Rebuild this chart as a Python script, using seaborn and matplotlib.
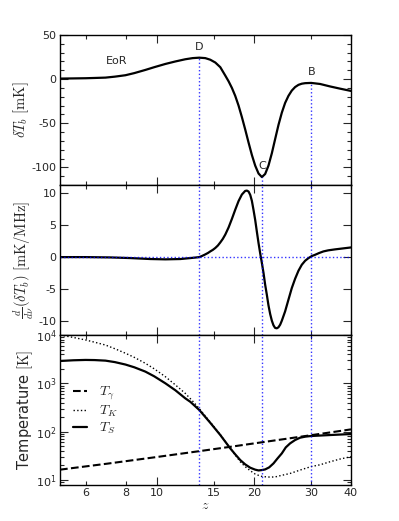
import numpy as np
import pandas as pd
import matplotlib
matplotlib.use("Agg")
import matplotlib.pyplot as plt
import seaborn as sns
from matplotlib.ticker import FixedLocator, FuncFormatter, NullFormatter, MultipleLocator

# ---------------- data ----------------
z_tb = [5.0, 5.5, 6.0, 6.4, 6.92, 7.4, 7.98, 8.5, 9.20, 9.8, 10.62, 11.4, 12.24, 12.9,
        13.53, 14.12, 14.63, 15.17, 15.72,
        16.29, 16.68, 17.08, 17.49, 17.91, 18.34, 18.78, 19.24, 19.70, 20.17, 20.66,
        21.16, 21.66, 22.18, 22.72, 23.26, 23.82, 24.40, 24.98, 25.58, 26.20, 26.83,
        27.48, 28.14, 28.82, 30.08, 32.07, 34.44, 36.99, 40.0]
dTb = [0.6, 0.8, 1.0, 1.3, 1.7, 2.8, 4.4, 6.8, 10.4, 13.5, 17.2, 20.0, 22.5, 23.8,
       24.3, 23.8, 22.0, 18.8, 13.5,
       4.0, -2.5, -10.0, -19.0, -30.0, -43.0, -57.0, -72.0, -86.0, -98.0, -107.0,
       -111.0, -107.5, -98.0, -84.0, -68.0, -52.0, -38.0, -27.0, -19.0, -13.0, -9.0,
       -6.5, -5.2, -4.6, -4.3, -5.5, -8.3, -10.8, -13.4]

z_der = [5.0, 6.0, 7.17, 8.27, 9.54, 10.62, 11.82, 12.69, 13.1, 13.53, 13.8, 14.12, 14.4,
         14.63, 14.9, 15.17, 15.45, 15.72, 16.0, 16.29, 16.68, 17.08, 17.49, 17.91, 18.34,
         18.78, 19.01, 19.24, 19.47, 19.70, 19.93, 20.17, 20.41, 20.66, 20.90, 21.16,
         21.41, 21.66, 21.92, 22.18, 22.45, 22.72, 22.99, 23.26, 23.54, 23.82, 24.11,
         24.40, 24.98, 25.58, 26.20, 26.83, 27.48, 28.14, 28.82, 29.51, 30.22, 30.95,
         31.8, 32.83, 34.0, 35.69, 37.5, 40.0]
dTb_dnu = [0.0, 0.0, -0.05, -0.15, -0.3, -0.35, -0.3, -0.15, -0.08, 0.0, 0.18, 0.42, 0.65,
           0.88, 1.12, 1.42, 1.80, 2.28, 2.82, 3.50, 4.61, 5.94, 7.36, 8.70, 9.72,
           10.28, 10.33, 10.18, 9.66, 8.73, 7.33, 5.78, 3.97, 2.17, 0.62, -0.93,
           -2.48, -4.29, -5.84, -7.50, -8.84, -9.88, -10.6, -11.0, -11.06, -10.9, -10.5,
           -9.88, -8.43, -6.62, -4.81, -3.36, -2.12, -1.19, -0.57, -0.16, 0.16, 0.36,
           0.62, 0.88, 1.05, 1.2, 1.33, 1.5]

z_tg = [5.0, 7.0, 10.0, 13.5, 17.0, 21.0, 25.0, 30.0, 35.0, 40.0]
T_gamma = [16.4, 21.8, 30.0, 39.5, 49.0, 60.0, 70.8, 84.5, 98.0, 111.7]

z_tk = [5.0, 5.5, 6.0, 6.4, 6.92, 7.4, 7.98, 8.5, 9.20, 9.8, 10.62, 11.4, 12.24, 12.9,
        13.53, 14.63, 15.72, 16.88, 17.49,
        18.13, 18.78, 19.47, 20.17, 20.66, 21.16, 21.66, 22.45, 23.26, 24.11, 25.89,
        27.81, 30.01, 32.07, 34.44, 36.99, 40.0]
T_K = [10000, 8900, 7900, 7100, 6200, 5200, 4200, 3450, 2600, 2000, 1370, 930, 620, 430,
       300, 158, 87, 45.5, 33.0,
       23.9, 18.9, 15.6, 13.3, 12.5, 11.9, 11.7, 11.5, 11.6, 12.3, 13.7,
       16.1, 18.9, 20.7, 23.9, 27.2, 30.4]

z_ts = [5.0, 5.5, 6.0, 6.4, 6.92, 7.4, 7.98, 8.5, 9.20, 9.8, 10.62, 11.4, 12.24, 12.69,
        13.53, 14.63, 15.72, 16.88,
        17.49, 18.13, 18.78, 19.47, 20.17, 20.66, 21.16, 21.66, 22.29, 22.99, 23.66,
        24.40, 25.10, 25.89, 26.83, 27.81, 28.82, 30.01, 34.44, 40.0]
T_S = [2900, 3000, 3050, 3030, 2950, 2750, 2450, 2150, 1750, 1400, 1000, 720, 490, 415,
       281, 153, 85.3, 45.2,
       34.0, 25.9, 21.1, 18.0, 16.4, 15.8, 16.1, 16.6, 18.3, 22.1, 28.0,
       35.6, 47.4, 57.4, 67.3, 75.2, 78.9, 81.4, 85.3, 89.5]

feat_labels = ["D", "C", "B"]
feat_z = [13.5, 21.2, 30.1]
feat_dTb = [24.3, -111.0, -4.3]
feat_text_y = [36.0, -98.0, 8.0]
eor_label = "EoR"
eor_pos = (7.5, 20.0)

x_ticks_major = [10, 20]
x_ticks_minor = [6, 8, 15, 30, 40]

# ---------------- style ----------------
sns.set_style("ticks", {"xtick.direction": "in", "ytick.direction": "in"})
plt.rcParams["font.family"] = ["DejaVu Sans"]
plt.rcParams["mathtext.fontset"] = "cm"
plt.rcParams["axes.unicode_minus"] = False
plt.rcParams["axes.linewidth"] = 1.0
plt.rcParams["axes.edgecolor"] = "black"

fig = plt.figure(figsize=(3.99, 5.21), dpi=100)
L, W, H = 60 / 399, 291 / 399, 150 / 521
ax1 = fig.add_axes([L, 1 - 185 / 521, W, H])
ax2 = fig.add_axes([L, 1 - 335 / 521, W, H])
ax3 = fig.add_axes([L, 1 - 485 / 521, W, H])

df_tb = pd.DataFrame({"z": z_tb, "v": dTb})
df_der = pd.DataFrame({"z": z_der, "v": dTb_dnu})
df_tg = pd.DataFrame({"z": z_tg, "v": T_gamma})
df_tk = pd.DataFrame({"z": z_tk, "v": T_K})
df_ts = pd.DataFrame({"z": z_ts, "v": T_S})

vline_kw = dict(color="blue", linestyle=":", linewidth=1.0, alpha=0.8)
label_fs = 10.5

# ---- top panel
sns.lineplot(data=df_tb, x="z", y="v", ax=ax1, color="black", linewidth=1.6, estimator=None)
ax1.set_ylim(-120, 50)
for zf, vf in zip(feat_z, feat_dTb):
    ax1.vlines(zf, -120, vf, **vline_kw)
for lab, zf, ty in zip(feat_labels, feat_z, feat_text_y):
    ax1.text(zf, ty, lab, ha="center", va="center", fontsize=8)
ax1.text(eor_pos[0], eor_pos[1], eor_label, ha="center", va="center", fontsize=8)
ax1.set_ylabel(r"$\delta T_b\ [\mathrm{mK}]$", fontsize=label_fs)
ax1.yaxis.set_major_locator(FixedLocator([-100, -50, 0, 50]))
ax1.yaxis.set_minor_locator(MultipleLocator(10))
ax1.yaxis.set_label_coords(-0.098, 0.5)

# ---- middle panel
sns.lineplot(data=df_der, x="z", y="v", ax=ax2, color="black", linewidth=1.6, estimator=None)
ax2.set_ylim(-12.1, 11.2)
for zf in feat_z:
    ax2.axvline(zf, **vline_kw)
ax2.axhline(0, **vline_kw)
ax2.set_ylabel(r"$\frac{d}{d\nu}(\delta T_b)\ [\mathrm{mK/MHz}]$", fontsize=label_fs)
ax2.yaxis.set_major_locator(FixedLocator([-10, -5, 0, 5, 10]))
ax2.yaxis.set_label_coords(-0.082, 0.5)

# ---- bottom panel
sns.lineplot(data=df_tg, x="z", y="v", ax=ax3, color="black", linewidth=1.5,
             linestyle="--", estimator=None, label=r"$T_\gamma$")
sns.lineplot(data=df_tk, x="z", y="v", ax=ax3, color="black", linewidth=1.0,
             linestyle=":", estimator=None, label=r"$T_K$")
sns.lineplot(data=df_ts, x="z", y="v", ax=ax3, color="black", linewidth=1.6,
             estimator=None, label=r"$T_S$")
for zf in feat_z:
    ax3.axvline(zf, **vline_kw)
ax3.set_yscale("log")
ax3.set_ylim(7.9, 1e4)
ax3.yaxis.set_major_formatter(FuncFormatter(lambda v, p: r"$\mathdefault{10^{%d}}$" % round(np.log10(v))))
ax3.set_ylabel(r"Temperature $[\mathrm{K}]$", fontsize=label_fs)
ax3.yaxis.set_label_coords(-0.086, 0.5)
ax3.set_xlabel(r"$z$", fontsize=10)
ax3.xaxis.set_label_coords(0.5, -0.085)
leg = ax3.legend(loc="upper left", bbox_to_anchor=(0.01, 0.733), frameon=False,
                 fontsize=10, handlelength=1.0, handletextpad=0.9,
                 labelspacing=0.1, borderaxespad=0.3)

for ax in (ax1, ax2, ax3):
    ax.set_xscale("log")
    ax.set_xlim(5, 40)
    ax.xaxis.set_major_locator(FixedLocator(x_ticks_major))
    ax.xaxis.set_minor_locator(FixedLocator(x_ticks_minor))
    ax.tick_params(which="both", direction="in", top=True, right=True, labelsize=8, pad=2.5)
    ax.tick_params(which="major", length=6, width=0.8)
    ax.tick_params(which="minor", length=3, width=0.8)
    if ax is not ax3:
        ax.set_xlabel("")
        ax.xaxis.set_major_formatter(NullFormatter())
        ax.xaxis.set_minor_formatter(NullFormatter())
    else:
        ax.xaxis.set_major_formatter(FuncFormatter(lambda v, p: "%g" % v))
        ax.xaxis.set_minor_formatter(FuncFormatter(lambda v, p: "%g" % v))
    for s in ax.spines.values():
        s.set_linewidth(1.0)
        s.set_color("black")

fig.savefig("out.png", dpi=100)
